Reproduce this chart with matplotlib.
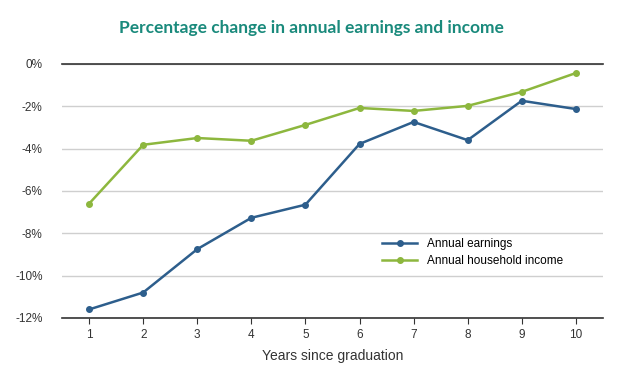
import matplotlib
matplotlib.use("Agg")
import matplotlib.pyplot as plt
from matplotlib.ticker import FuncFormatter

years = [1, 2, 3, 4, 5, 6, 7, 8, 9, 10]
annual_earnings = [-11.6, -10.8, -8.75, -7.27, -6.65, -3.78, -2.74, -3.6, -1.74, -2.13]
household_income = [-6.6, -3.82, -3.5, -3.63, -2.88, -2.08, -2.22, -1.98, -1.32, -0.43]
yticks = [0, -2, -4, -6, -8, -10, -12]

blue = "#2d5e8c"
green = "#8db73e"

plt.rcParams["font.family"] = ["Liberation Sans", "DejaVu Sans"]

fig = plt.figure(figsize=(6.4, 3.74), dpi=100)
ax = fig.add_axes([0.097, 0.150, 0.845, 0.679])

ax.plot(years, annual_earnings, color=blue, lw=1.8, marker="o", ms=4, label="Annual earnings", zorder=3)
ax.plot(years, household_income, color=green, lw=1.8, marker="o", ms=4, label="Annual household income", zorder=3)

ax.set_xlim(0.5, 10.5)
ax.set_ylim(-12, 0)
ax.set_yticks(yticks)
ax.yaxis.set_major_formatter(FuncFormatter(lambda v, p: f"{int(round(v))}%"))
ax.set_xticks(years)
ax.grid(axis="y", color="#cfcfcf", lw=1)
ax.set_axisbelow(True)
for s in ["left", "right"]:
    ax.spines[s].set_visible(False)
for s in ["top", "bottom"]:
    ax.spines[s].set_color("#333333")
    ax.spines[s].set_linewidth(1.2)
ax.tick_params(axis="y", length=0, pad=14, labelsize=8.5, colors="#333333")
ax.tick_params(axis="x", length=4, color="#333333", labelsize=8.5, colors="#333333", pad=4)
ax.set_xlabel("Years since graduation", fontsize=10, color="#333333", labelpad=6)

leg = ax.legend(loc="upper left", bbox_to_anchor=(0.572, 0.355), frameon=False, fontsize=8.5,
                handlelength=3, labelspacing=0.4)

fig.text(0.486, 0.926, "Percentage change in annual earnings and income", ha="center", va="center",
         fontsize=12.5, fontweight="bold", color="#1a8a7c", family="Lato")

fig.savefig("out.png", dpi=100)
